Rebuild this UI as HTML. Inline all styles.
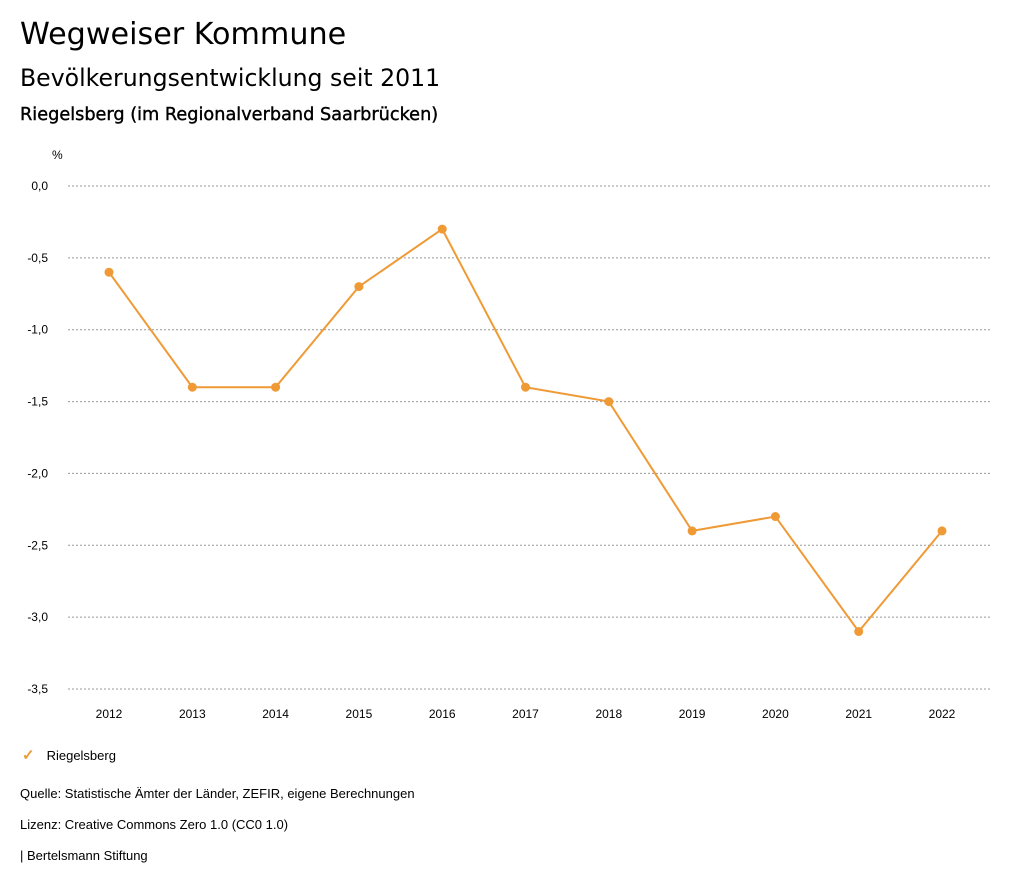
<!DOCTYPE html>
<html><head><meta charset="utf-8"><style>
body{margin:0;background:#fff;font-family:"Liberation Sans",sans-serif;color:#000}
.t{position:absolute;white-space:nowrap}
.d{font-family:"DejaVu Sans",sans-serif}
</style></head><body>
<div style="position:relative;width:1024px;height:888px;overflow:hidden">
<div class="t d" style="left:20px;top:17px;font-size:30.2px">Wegweiser Kommune</div>
<div class="t d" style="left:20px;top:64px;font-size:23.6px">Bevölkerungsentwicklung seit 2011</div>
<div class="t d" style="left:20px;top:105px;font-size:17.7px;-webkit-text-stroke:0.4px #000">Riegelsberg (im Regionalverband Saarbrücken)</div>
<svg id="c" width="1024" height="888" style="position:absolute;left:0;top:0"></svg>
<div class="t" style="left:22px;top:746px;font-size:13px"><span style="color:#ef9a35;font-size:15px;font-weight:bold;margin-right:12px">✓</span>Riegelsberg</div>
<div class="t" style="left:20px;top:786px;font-size:13px">Quelle: Statistische Ämter der Länder, ZEFIR, eigene Berechnungen</div>
<div class="t" style="left:20px;top:817px;font-size:13px">Lizenz: Creative Commons Zero 1.0 (CC0 1.0)</div>
<div class="t" style="left:20px;top:848px;font-size:13px">| Bertelsmann Stiftung</div>
</div>
<script>
const years=[2012,2013,2014,2015,2016,2017,2018,2019,2020,2021,2022];
const values=[-0.6,-1.4,-1.4,-0.7,-0.3,-1.4,-1.5,-2.4,-2.3,-3.1,-2.4];
const yTicks=[0,-0.5,-1,-1.5,-2,-2.5,-3,-3.5];
const NS='http://www.w3.org/2000/svg';
const svg=document.getElementById('c');
const x=i=>109+i*(942-109)/(years.length-1);
const y=v=>186+(0-v)/3.5*(689-186);
function mk(t,a){const e=document.createElementNS(NS,t);for(const k in a)e.setAttribute(k,a[k]);svg.appendChild(e);return e;}
let u=mk('text',{x:52,y:159,'font-size':12,fill:'#000'});u.textContent='%';


yTicks.forEach(v=>{
 const g=mk('line',{x1:68,x2:990,y1:y(v),y2:y(v),stroke:'#999','stroke-dasharray':'2,2','stroke-width':1});
 
 
 const t=mk('text',{x:48,y:y(v)+4,'font-size':12,'text-anchor':'end',fill:'#000'});
 t.textContent=v.toFixed(1).replace('.',',');
 
 
});
years.forEach((yr,i)=>{
 const t=mk('text',{x:x(i),y:718,'font-size':12,'text-anchor':'middle',fill:'#000'});
 t.textContent=yr;
 
 
});
const p=mk('polyline',{points:values.map((v,i)=>x(i)+','+y(v)).join(' '),fill:'none',stroke:'#ef9a35','stroke-width':2});


values.forEach((v,i)=>{
 const c=mk('circle',{cx:x(i),cy:y(v),r:4.5,fill:'#ef9a35'});
 
 
});
</script>
</body></html>
